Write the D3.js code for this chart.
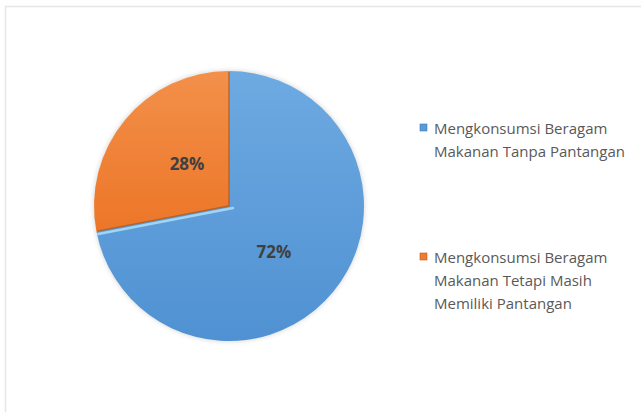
<!DOCTYPE html>
<html>
<head>
<meta charset="utf-8">
<script src="https://cdn.jsdelivr.net/npm/d3@7"></script>
<style>
  html, body { margin: 0; padding: 0; background: #fff; }
  svg { display: block; }
</style>
</head>
<body>
<svg id="chart" width="641" height="412"></svg>
<script>
// Survey result: share of respondents by eating pattern
const categories = [
  ["Mengkonsumsi Beragam", "Makanan Tanpa Pantangan"],
  ["Mengkonsumsi Beragam", "Makanan Tetapi Masih", "Memiliki Pantangan"]
];
const values = [72, 28];
const valueLabels = ["72%", "28%"];
const colors = ["#5B9BD5", "#ED7D31"];

const svg = d3.select("#chart");
const W = 641, H = 412;

// outer chart frame
svg.append("rect")
  .attr("x", 5.5).attr("y", 6.5)
  .attr("width", W + 10).attr("height", H + 10)
  .attr("fill", "#fff")
  .attr("stroke", "#e6e6e6").attr("stroke-width", 1.5);

const defs = svg.append("defs");

const gradBlue = defs.append("linearGradient").attr("id", "gBlue")
  .attr("x1", 0).attr("y1", 0).attr("x2", 0).attr("y2", 1);
gradBlue.append("stop").attr("offset", "0%").attr("stop-color", "#6eaae2");
gradBlue.append("stop").attr("offset", "100%").attr("stop-color", "#4f91d2");

const gradOrange = defs.append("linearGradient").attr("id", "gOrange")
  .attr("x1", 0).attr("y1", 0).attr("x2", 0).attr("y2", 1);
gradOrange.append("stop").attr("offset", "0%").attr("stop-color", "#f3904a");
gradOrange.append("stop").attr("offset", "100%").attr("stop-color", "#ec7628");

const shadow = defs.append("filter").attr("id", "soft")
  .attr("x", "-20%").attr("y", "-20%").attr("width", "140%").attr("height", "140%");
shadow.append("feGaussianBlur").attr("stdDeviation", 2);

const cx = 229, cy = 206, r = 135;

const pie = d3.pie().sort(null).value(d => d);
const arcs = pie(values);
const arc = d3.arc().innerRadius(0).outerRadius(r);
const fills = ["url(#gBlue)", "url(#gOrange)"];

const g = svg.append("g").attr("transform", `translate(${cx},${cy})`);

// soft halo under the pie
g.append("circle").attr("r", r + 1)
  .attr("fill", "#c8c8c8").attr("opacity", 0.6)
  .attr("filter", "url(#soft)");

g.selectAll("path.slice")
  .data(arcs)
  .join("path")
  .attr("class", "slice")
  .attr("d", arc)
  .attr("fill", (d, i) => fills[i]);

// bevel: darker edges along the orange slice's radii, light edge on the blue slice
const a0 = arcs[1].startAngle;
const bx = Math.sin(a0), by = -Math.cos(a0);
g.append("path")
  .attr("d", `M${bx * (r - 1)},${by * (r - 1)}L0,0L0,${-r + 1}`)
  .attr("fill", "none")
  .attr("stroke", "#a9561c").attr("stroke-width", 1.3)
  .attr("stroke-opacity", 0.8);

g.append("line")
  .attr("x1", 4).attr("y1", 2)
  .attr("x2", bx * (r - 2)).attr("y2", by * (r - 2) + 3)
  .attr("stroke", "#a8dcfa").attr("stroke-width", 2.5)
  .attr("stroke-linecap", "round").attr("opacity", 0.9);

// value labels
const labelPos = [[45, 45], [-42, -43]];
g.selectAll("text.val")
  .data(arcs)
  .join("text")
  .attr("class", "val")
  .attr("x", (d, i) => labelPos[i][0])
  .attr("y", (d, i) => labelPos[i][1])
  .attr("text-anchor", "middle")
  .attr("dominant-baseline", "central")
  .attr("font-family", "'Open Sans', sans-serif")
  .attr("font-weight", "bold")
  .attr("font-size", 17)
  .attr("fill", "#404040")
  .text((d, i) => valueLabels[i]);

// legend
const legendY = [128, 257];
const lg = svg.append("g");
categories.forEach((lines, i) => {
  const y = legendY[i];
  lg.append("rect")
    .attr("x", 420).attr("y", y - 4)
    .attr("width", 7).attr("height", 7)
    .attr("fill", colors[i])
    .attr("stroke", i === 0 ? "#3c78b4" : "#c05a1a").attr("stroke-width", 0.6);
  lines.forEach((t, j) => {
    lg.append("text")
      .attr("x", 434).attr("y", y + j * 23)
      .attr("dominant-baseline", "central")
      .attr("font-family", "'Open Sans', sans-serif")
      .attr("font-size", 15)
      .attr("fill", "#595959")
      .text(t);
  });
});
</script>
</body>
</html>
